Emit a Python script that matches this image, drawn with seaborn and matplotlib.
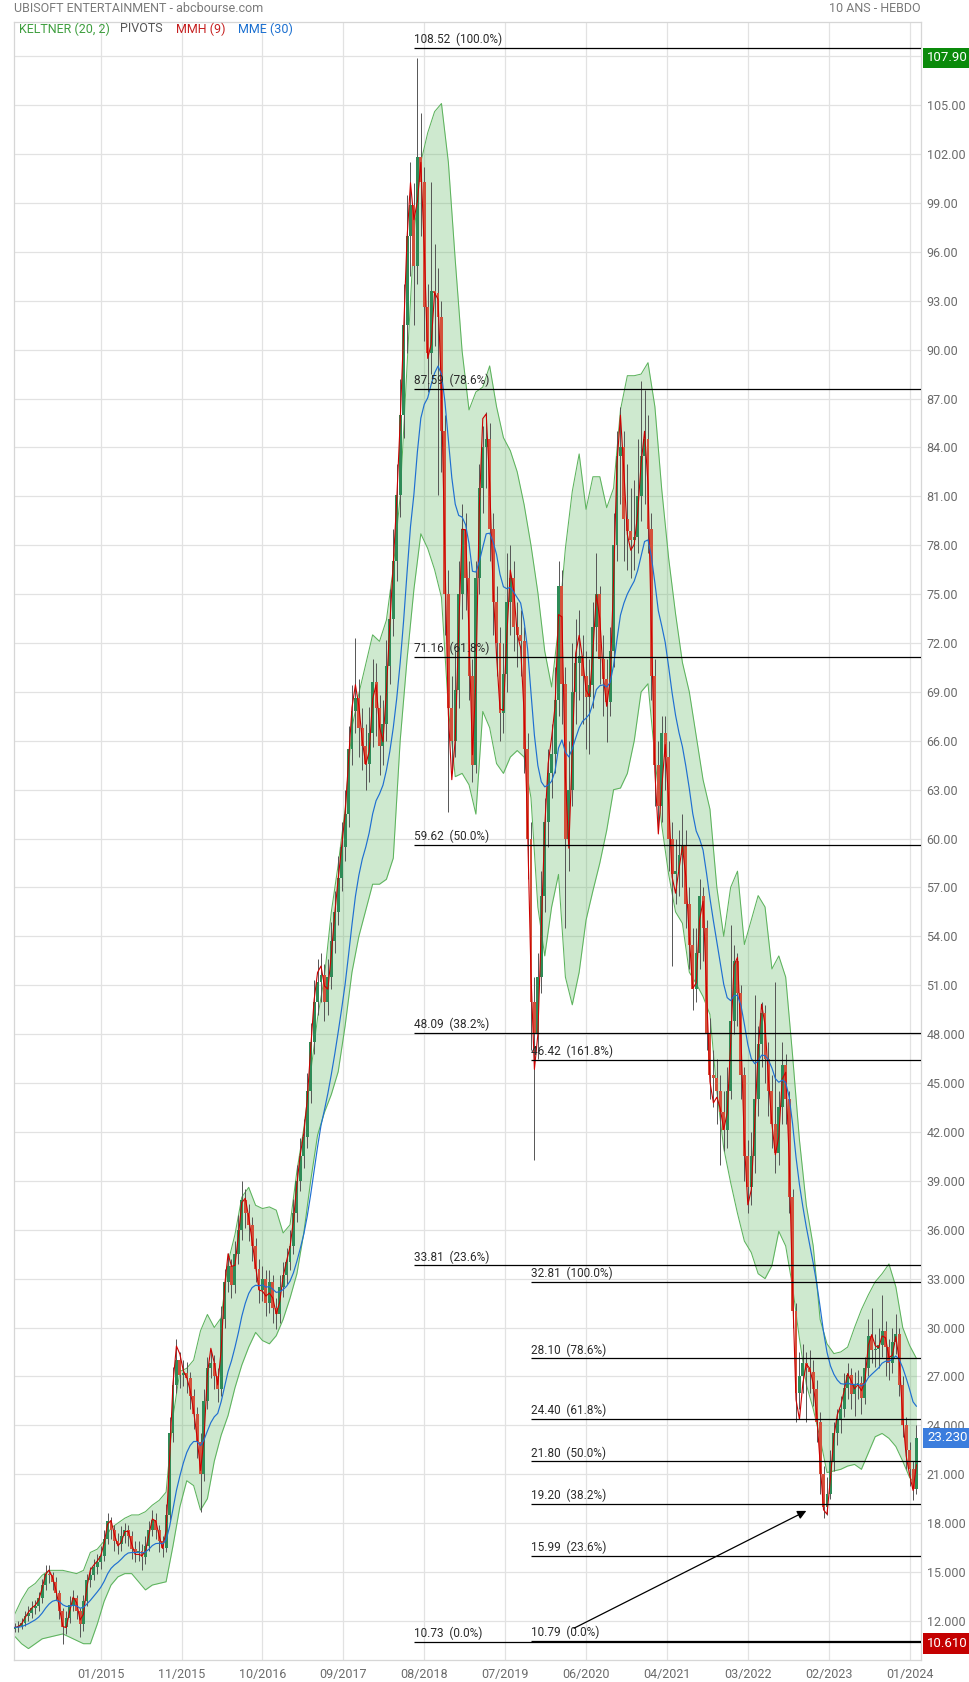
import numpy as np
import pandas as pd
import matplotlib
matplotlib.use("Agg")
import matplotlib.pyplot as plt
import matplotlib.transforms as mtransforms
import seaborn as sns

# ------------------------------------------------------------------ data
# bi-weekly candles (week index = 2*i), prices in EUR
closes = [
    11.6, 11.7, 11.9, 12.3, 12.5, 12.8, 12.9, 13.4, 14.2, 14.9,
    14.8, 14.4, 13.7, 12.6, 11.6, 12.2, 13.0, 13.4, 12.6, 11.8,
    13.2, 14.5, 14.8, 15.3, 15.6, 16.0, 17.0, 18.1, 17.6, 16.9,
    16.7, 17.2, 17.6, 17.2, 16.4, 16.2, 16.3, 15.9, 16.6, 17.6,
    18.2, 17.6, 16.9, 16.5, 18.5, 23.5, 26.5, 28.0, 27.1, 27.2,
    26.9, 25.8, 24.7, 23.0, 21.0, 25.5, 27.5, 27.8, 27.0, 26.2,
    30.5, 32.8, 33.8, 32.6, 34.5, 36.0, 37.8, 37.0, 36.3, 35.0,
    33.6, 32.3, 33.0, 31.5, 32.8, 31.2, 30.8, 32.5, 33.2, 34.0,
    35.0, 37.0, 39.0, 40.5, 41.7, 44.5, 47.5, 50.0, 51.2, 51.6,
    50.0, 51.5, 53.7, 55.5, 57.6, 59.5, 61.5, 65.5, 67.8, 68.6,
    66.8, 65.7, 64.6, 66.5, 69.6, 68.0, 65.7, 67.0, 70.6, 73.5,
    77.0, 81.1, 86.0, 91.5, 97.0, 98.9, 95.1, 101.8, 100.3, 92.6,
    89.8, 93.6, 93.5, 92.0, 85.0, 75.0, 68.0, 66.0, 69.1, 75.0,
    79.0, 76.0, 70.0, 64.5, 76.0, 81.5, 84.0, 84.5, 79.0, 74.5,
    72.0, 67.7, 70.1, 74.5, 76.0, 73.0, 72.5, 72.1, 65.5, 60.0,
    50.0, 48.0, 51.5, 56.5, 61.0, 64.0, 65.2, 68.5, 75.5, 69.5,
    60.0, 63.0, 69.0, 70.8, 71.2, 70.0, 68.7, 69.4, 73.0, 75.0,
    71.0, 69.8, 68.4, 71.5, 78.0, 83.5, 84.0, 79.6, 78.9, 78.3,
    78.5, 81.0, 83.5, 84.5, 79.0, 70.0, 64.5, 62.0, 66.5, 65.0,
    60.0, 57.8, 58.0, 59.0, 59.6, 56.0, 53.5, 50.8, 53.0, 56.5,
    54.5, 48.0, 45.5, 45.3, 44.5, 43.2, 42.1, 44.5, 48.8, 52.5,
    50.5, 45.5, 40.5, 38.6, 40.5, 44.0, 47.4, 49.3, 46.5, 44.5,
    42.5, 40.7, 43.5, 46.1, 44.0, 38.0, 31.0, 26.0, 27.0, 27.8,
    27.5, 27.3, 26.2, 24.2, 21.0, 19.0, 19.8, 21.8, 23.5, 24.3,
    25.0, 26.3, 27.1, 25.9, 26.5, 26.6, 25.7, 27.5, 29.5, 28.6,
    28.7, 28.9, 29.8, 28.8, 27.8, 29.1, 29.6, 26.5, 24.0, 22.5,
    21.3, 20.1, 23.23,
]
highs = [
    11.9, 12.0, 12.2, 12.6, 12.9, 13.2, 13.3, 13.8, 14.6, 15.4,
    15.4, 15.0, 14.7, 13.9, 12.8, 12.6, 13.5, 13.9, 13.6, 12.8,
    13.6, 14.9, 15.3, 15.8, 16.1, 16.6, 17.6, 18.6, 18.4, 17.9,
    17.4, 17.8, 18.0, 17.9, 17.5, 16.9, 16.9, 16.7, 17.2, 18.1,
    18.8, 18.6, 17.9, 17.2, 19.2, 24.5, 27.6, 29.3, 28.5, 28.0,
    27.9, 27.3, 26.2, 25.1, 23.5, 26.2, 28.2, 28.6, 28.3, 27.5,
    31.3, 33.6, 34.6, 34.2, 35.3, 36.9, 39.0, 38.5, 37.6, 36.8,
    35.5, 34.2, 33.8, 33.5, 33.5, 33.2, 31.8, 33.2, 34.0, 34.9,
    36.0, 37.9, 40.0, 41.6, 42.8, 45.6, 48.7, 51.3, 52.6, 53.0,
    52.3, 52.6, 54.9, 56.8, 58.9, 61.0, 63.0, 66.9, 69.4, 72.3,
    69.8, 68.0, 67.0, 68.1, 71.0, 70.8, 68.8, 68.5, 72.2, 75.3,
    79.0, 83.0, 88.2, 94.0, 99.5, 101.5, 100.2, 107.9, 104.5, 101.2,
    94.0, 100.3, 96.5, 95.0, 93.0, 86.0, 76.5, 70.0, 71.5, 77.0,
    80.5, 80.0, 77.0, 71.0, 77.0, 83.0, 85.3, 86.2, 85.5, 80.0,
    75.5, 73.0, 72.0, 77.5, 78.0, 77.0, 74.5, 74.0, 73.0, 66.5,
    61.0, 51.5, 53.0, 58.0, 62.5, 65.5, 67.0, 70.5, 77.0, 76.5,
    70.5, 66.0, 72.0, 73.5, 74.0, 72.5, 71.5, 71.0, 74.5, 77.5,
    75.5, 72.5, 71.0, 73.0, 80.0, 85.0, 86.5, 85.0, 83.0, 81.5,
    82.0, 84.5, 88.1, 87.5, 86.0, 80.0, 71.0, 66.0, 67.5, 67.5,
    66.0, 61.0, 60.0, 60.5, 61.5, 60.5, 57.0, 54.5, 54.5, 57.5,
    57.0, 55.0, 49.0, 47.0, 46.5, 45.5, 44.5, 46.0, 54.7, 53.5,
    53.0, 51.0, 46.0, 41.5, 42.0, 50.4, 48.5, 50.0, 49.8, 47.5,
    45.5, 51.2, 44.5, 47.5, 46.8, 44.5, 38.5, 31.5, 28.5, 29.0,
    28.5, 28.6, 28.0, 26.8, 24.8, 21.5, 20.8, 22.5, 24.2, 25.0,
    25.8, 27.2, 27.8, 27.5, 27.3, 27.4, 27.0, 28.2, 30.5, 31.2,
    29.6, 30.0, 32.0, 30.4, 29.3, 30.0, 30.8, 30.0, 27.0, 24.5,
    23.0, 21.8, 24.0,
]
lows = [
    11.3, 11.3, 11.5, 11.7, 12.0, 12.2, 12.4, 12.6, 13.1, 13.9,
    14.3, 13.9, 13.3, 12.1, 10.61, 11.2, 11.9, 12.6, 12.1, 11.0,
    11.4, 12.9, 14.1, 14.5, 14.9, 15.2, 15.7, 16.7, 17.0, 16.3,
    16.1, 16.3, 16.8, 16.6, 15.8, 15.6, 15.7, 15.1, 15.5, 16.3,
    17.2, 17.0, 16.2, 15.9, 16.2, 18.2, 23.0, 26.0, 26.3, 26.4,
    26.0, 25.0, 23.8, 22.0, 18.7, 20.6, 25.0, 26.9, 26.2, 25.4,
    25.8, 30.0, 32.2, 31.8, 32.1, 33.9, 35.4, 36.1, 35.3, 34.1,
    32.8, 31.5, 31.6, 30.7, 30.9, 30.3, 29.9, 30.3, 31.9, 32.7,
    33.5, 34.5, 36.5, 38.4, 39.8, 41.0, 43.8, 46.8, 49.2, 50.0,
    48.8, 49.2, 50.8, 53.0, 54.7, 56.8, 58.6, 60.7, 64.5, 66.5,
    65.0, 64.2, 63.0, 63.5, 65.6, 66.3, 63.9, 64.5, 66.0, 69.5,
    72.4, 75.8, 79.7, 84.6, 89.8, 94.5, 91.5, 94.0, 97.0, 90.5,
    87.4, 88.5, 90.2, 81.1, 82.5, 72.5, 61.6, 64.0, 65.0, 68.0,
    73.5, 74.0, 68.5, 63.5, 64.0, 75.0, 80.0, 81.5, 77.0, 72.5,
    70.0, 66.0, 66.5, 69.0, 72.5, 71.5, 70.5, 70.0, 64.0, 57.5,
    47.0, 40.3, 46.5, 50.5, 55.5, 59.5, 62.5, 64.0, 67.5, 67.0,
    54.5, 58.0, 62.0, 67.0, 68.5, 67.0, 65.5, 65.2, 68.0, 71.5,
    69.5, 67.5, 65.9, 67.5, 70.5, 77.0, 80.5, 77.0, 76.5, 76.0,
    76.5, 77.5, 79.5, 80.5, 77.5, 68.5, 62.0, 60.5, 61.0, 63.0,
    58.0, 52.2, 56.0, 56.5, 57.0, 54.5, 52.0, 49.5, 50.0, 52.0,
    52.5, 47.0, 44.0, 43.5, 42.5, 40.0, 40.8, 41.0, 44.0, 48.0,
    48.5, 44.0, 39.0, 37.0, 37.5, 39.5, 43.0, 46.0, 45.0, 43.0,
    41.0, 39.5, 40.0, 42.5, 42.5, 37.0, 30.0, 24.2, 25.0, 26.0,
    24.2, 26.0, 25.2, 23.0, 19.8, 18.3, 18.5, 19.5, 21.2, 22.8,
    23.5, 24.5, 25.6, 25.0, 24.6, 25.6, 24.7, 25.3, 27.0, 27.8,
    27.6, 27.5, 28.2, 27.0, 26.8, 27.2, 28.4, 25.8, 23.3, 21.3,
    20.3, 19.4, 19.8,
]
first_open = 11.5

# Keltner (20, 2) channel, sampled every 4 weeks
keltner_upper = [
    12.4, 13.3, 14.0, 14.3, 14.8, 15.1, 15.1, 15.1, 15.0, 14.9,
    15.1, 16.2, 16.4, 16.9, 17.7, 18.0, 18.3, 18.5, 18.5, 18.7,
    19.1, 19.4, 19.9, 24.5, 27.3, 27.5, 28.0, 29.8, 30.8, 30.0,
    30.6, 34.0, 35.7, 38.0, 38.6, 37.5, 37.3, 37.4, 37.2, 35.8,
    36.3, 39.6, 42.2, 45.6, 49.0, 51.5, 55.5, 58.4, 61.8, 66.8,
    68.9, 70.7, 72.5, 72.1, 73.4, 76.6, 81.0, 89.0, 97.0, 101.5,
    103.3, 104.6, 105.1, 101.5, 95.5, 89.9, 86.3, 87.4, 87.7, 89.0,
    86.5, 84.6, 83.8, 82.5, 80.5, 78.0, 75.1, 71.5, 69.3, 73.0,
    77.8, 81.3, 83.6, 80.2, 82.2, 82.2, 80.3, 81.5, 86.3, 88.4,
    88.4, 88.5, 89.2, 86.5, 81.4, 77.2, 73.8, 70.8, 69.0, 66.3,
    63.6, 61.8, 57.0, 54.0, 57.0, 58.0, 53.5, 55.0, 56.5, 55.8,
    52.0, 52.8, 51.5, 46.7, 41.5, 37.5, 35.0, 30.5, 29.0, 28.4,
    28.5, 28.8, 30.0, 31.1, 32.0, 32.8, 33.3, 33.9, 32.5, 30.0,
    28.9, 28.1,
]
keltner_lower = [
    11.06, 10.6, 10.3, 10.6, 10.9, 11.0, 11.1, 11.2, 11.0, 10.8,
    10.6, 10.6, 11.8, 13.2, 14.2, 14.7, 14.9, 14.9, 14.4, 13.9,
    14.2, 14.3, 14.4, 16.6, 19.0, 20.6, 20.3, 18.8, 19.5, 21.8,
    23.4, 24.6, 26.3, 27.7, 28.8, 29.7, 29.2, 29.0, 29.5, 30.5,
    31.8, 33.3, 35.8, 39.0, 41.8, 43.2, 44.3, 45.7, 48.5, 51.8,
    54.0, 55.6, 57.2, 57.2, 57.5, 58.8, 66.0, 71.0, 75.3, 78.7,
    77.8, 76.5, 74.8, 68.0, 63.8, 64.0, 63.3, 61.5, 67.8, 66.8,
    64.6, 64.0, 65.0, 65.4, 65.0, 62.5, 55.8, 52.8, 55.8, 57.8,
    51.5, 49.8, 51.8, 55.0, 56.8, 58.5, 60.5, 63.0, 63.1, 64.0,
    66.0, 69.0, 69.5, 65.0, 60.8, 57.8, 55.5, 54.8, 51.8, 51.1,
    50.3, 49.2, 44.5, 41.0, 38.9, 37.0, 35.3, 34.6, 33.3, 33.0,
    33.8, 35.9, 35.0, 32.5, 29.3, 26.5, 25.0, 23.2, 21.1, 21.2,
    21.3, 21.5, 21.6, 21.3, 22.3, 23.3, 23.5, 23.2, 22.7, 21.8,
    20.8, 20.3,
]

date_labels = ["01/2015", "11/2015", "10/2016", "09/2017", "08/2018", "07/2019",
               "06/2020", "04/2021", "03/2022", "02/2023", "01/2024"]

fib1_levels = [108.52, 87.59, 71.16, 59.62, 48.09, 33.81, 10.73]
fib1_pcts = ["100.0%", "78.6%", "61.8%", "50.0%", "38.2%", "23.6%", "0.0%"]
fib1_start_week = 232
fib2_levels = [46.42, 32.81, 28.10, 24.40, 21.80, 19.20, 15.99, 10.79]
fib2_pcts = ["161.8%", "100.0%", "78.6%", "61.8%", "50.0%", "38.2%", "23.6%", "0.0%"]
fib2_start_week = 300

arrow_start = (325, 11.55)   # (week, price) of the drawn arrow
arrow_end = (460, 18.75)

price_high = 107.90
price_low = 10.61
price_last = 23.23

# ------------------------------------------------------------------ derived series
c = np.array(closes)
h = np.array(highs)
l = np.array(lows)
o = np.r_[first_open, c[:-1]]
weeks = np.arange(len(c)) * 2
band_weeks = np.arange(len(keltner_upper)) * 4


def wma(x, n):
    out = np.empty_like(x, dtype=float)
    for i in range(len(x)):
        seg = x[max(0, i - n + 1):i + 1]
        w = np.arange(1, len(seg) + 1)
        out[i] = (seg * w).sum() / w.sum()
    return out


mme = pd.Series(c).ewm(span=15, adjust=False).mean().values      # MME(30 weeks)
mmh = wma(2 * wma(c, 2) - wma(c, 4), 2)                             # Hull MA(9 weeks)

df_c = pd.DataFrame({"week": weeks, "mme": mme, "mmh": mmh})
df_b = pd.DataFrame({"week": band_weeks, "up": keltner_upper, "lo": keltner_lower})

# ------------------------------------------------------------------ style
sns.set_theme(style="white")
plt.rcParams["font.family"] = ["Roboto", "DejaVu Sans"]

W, H = 970, 1682
fig = plt.figure(figsize=(W / 100, H / 100), dpi=100)
left, right, top, bottom = 14, 921, 21.7, 1660
ax = fig.add_axes([left / W, 1 - bottom / H, (right - left) / W, (bottom - top) / H])

px_per_week = 1.7211
x0 = -0.37
ax.set_xlim(x0, x0 + (right - left) / px_per_week)
ax.set_ylim(9.6, 110.12)

# grid
yt = np.arange(12, 109, 3)
ax.set_yticks(yt)
ax.set_yticklabels([f"{v:.2f}" if v >= 50 else f"{v:.3f}" for v in yt])
xt = 50 + 47 * np.arange(len(date_labels))
ax.set_xticks(xt)
ax.set_xticklabels(date_labels)
ax.grid(True, color="#e2e2e2", lw=0.9, zorder=0)
ax.set_axisbelow(True)
ax.yaxis.tick_right()
ax.tick_params(axis="y", length=0, pad=4, labelsize=9, labelcolor="#6b6b6b")
ax.tick_params(axis="x", length=0, pad=6, labelsize=9, labelcolor="#6b6b6b")
for s in ax.spines.values():
    s.set_color("#d6d6d6")
    s.set_linewidth(0.9)

# Keltner channel
ax.fill_between(df_b["week"], df_b["lo"], df_b["up"], color="#4caf50", alpha=0.27,
                lw=0, zorder=1)
sns.lineplot(data=df_b, x="week", y="up", ax=ax, color="#5db35d", lw=0.75,
             estimator=None, zorder=2)
sns.lineplot(data=df_b, x="week", y="lo", ax=ax, color="#5db35d", lw=0.75,
             estimator=None, zorder=2)

# candles
up = c >= o
ax.vlines(weeks, l, h, color="#555555", lw=0.7, zorder=3)
ax.bar(weeks[up], (c - o)[up], bottom=o[up], width=1.7, color="#2e8b57",
       lw=0, zorder=4)
ax.bar(weeks[~up], (c - o)[~up], bottom=o[~up], width=1.7, color="#d4503a",
       lw=0, zorder=4)

# moving averages
sns.lineplot(data=df_c, x="week", y="mmh", ax=ax, color="#cc0000", lw=0.8,
             estimator=None, zorder=5)
sns.lineplot(data=df_c, x="week", y="mme", ax=ax, color="#1f6fd1", lw=0.85,
             estimator=None, zorder=5)
ax.set_xlabel("")
ax.set_ylabel("")

# fibonacci / pivots
xmax = ax.get_xlim()[1]
lab_tr = mtransforms.offset_copy(ax.transData, fig=fig, x=0, y=1.5, units="dots")
for start, levels, pcts in ((fib1_start_week, fib1_levels, fib1_pcts),
                            (fib2_start_week, fib2_levels, fib2_pcts)):
    for lv, pc in zip(levels, pcts):
        ax.hlines(lv, start, xmax, color="black", lw=0.9, zorder=6)
        ax.text(start, lv, f"{lv:.2f}  ({pc})", transform=lab_tr, ha="left",
                va="bottom", fontsize=8.5, color="#2a2a2a", zorder=7)

ax.annotate("", xy=arrow_end, xytext=arrow_start,
            arrowprops=dict(arrowstyle="-|>", color="black", lw=0.9,
                            mutation_scale=13, shrinkA=0, shrinkB=0), zorder=7)

# price markers on the right axis
mtr = mtransforms.blended_transform_factory(ax.transAxes, ax.transData)
for val, txt, col in ((price_high, f"{price_high:.2f}", "#0a8a0a"),
                      (price_last, f"{price_last:.3f}", "#3b7ddd"),
                      (price_low, f"{price_low:.3f}", "#c40000")):
    ax.text(1.0 + 6 / (right - left), val, txt, transform=mtr, ha="left", va="center",
            fontsize=9.5, color="white", zorder=10, clip_on=False,
            bbox=dict(boxstyle="square,pad=0.28", fc=col, ec="none"))

# header texts
fig.text(left / W, 1 - 9 / H, "UBISOFT ENTERTAINMENT - abcbourse.com", ha="left",
         va="center", fontsize=9, color="#7a7a7a")
fig.text(right / W, 1 - 9 / H, "10 ANS - HEBDO", ha="right", va="center",
         fontsize=9, color="#7a7a7a")
for x, t, col in ((19, "KELTNER (20, 2)", "#3f9f3f"), (120, "PIVOTS", "#555555"),
                  (176, "MMH (9)", "#c62020"), (238, "MME (30)", "#1a6fd0")):
    fig.text(x / W, 1 - 29 / H, t, ha="left", va="center", fontsize=9, color=col)

fig.savefig("out.png", dpi=100)
